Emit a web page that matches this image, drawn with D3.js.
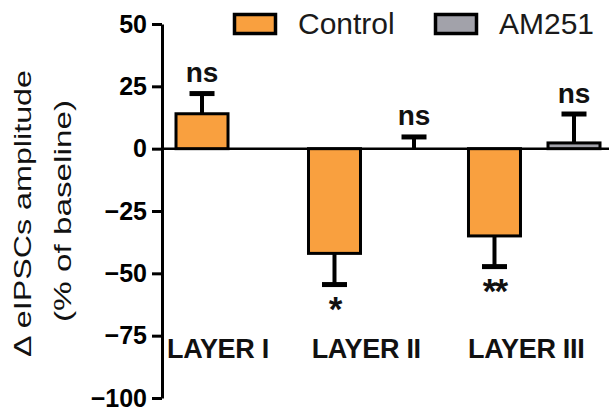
<!DOCTYPE html>
<html>
<head>
<meta charset="utf-8">
<script src="https://cdn.jsdelivr.net/npm/d3@7"></script>
<style>
  html, body { margin: 0; padding: 0; background: #ffffff; }
  svg { display: block; font-family: "Liberation Sans", Arial, Helvetica, sans-serif; }
</style>
</head>
<body>
<svg id="chart" width="613" height="413"></svg>
<script>
// ---------- data ----------
const layers = ["LAYER I", "LAYER II", "LAYER III"];
const series = ["Control", "AM251"];
const controlMean = [14, -42, -35];
const controlSem  = [8.1, 12.5, 12.3];
const am251Mean   = [null, 0, 2.3];
const am251Sem    = [null, 4.7, 11.6];
const controlSig  = ["ns", "*", "**"];
const am251Sig    = [null, "ns", "ns"];
const yTicks = [50, 25, 0, -25, -50, -75, -100];
const yLabelLines = ["\u0394 eIPSCs amplitude", "(% of baseline)"];

// ---------- styles ----------
const colors = { "Control": "#F9A03F", "AM251": "#A2A2AA" };
const W = 613, H = 413;
const axisX = 162;

const svg = d3.select("#chart");

// ---------- scales ----------
const y = d3.scaleLinear().domain([-100, 50]).range([398, 24]);
const x0 = d3.scaleBand().domain(layers).range([148.5, 600]).paddingInner(0.178).paddingOuter(0);
const x1 = d3.scaleBand().domain(series).range([0, x0.bandwidth()]).paddingInner(0.346).paddingOuter(0);

// build records
const bars = [];
layers.forEach((l, i) => {
  const recs = [
    { layer: l, s: "Control", mean: controlMean[i], sem: controlSem[i], sig: controlSig[i] },
    { layer: l, s: "AM251", mean: am251Mean[i], sem: am251Sem[i], sig: am251Sig[i] }
  ].filter(r => r.mean !== null);
  recs.forEach(r => {
    if (recs.length === 1) {
      // single bar in a group: offset by one inner gap from the band start
      r.x = x0(l) + (x1.step() - x1.bandwidth());
    } else {
      r.x = x0(l) + x1(r.s);
    }
    r.w = x1.bandwidth();
    bars.push(r);
  });
});

// ---------- zero line ----------
svg.append("line")
  .attr("x1", axisX).attr("x2", W - 4)
  .attr("y1", y(0)).attr("y2", y(0))
  .attr("stroke", "#000").attr("stroke-width", 2.5);

// ---------- error bars ----------
const eb = svg.append("g");
bars.forEach(b => {
  const dir = b.mean >= 0 ? 1 : -1;
  const end = b.mean + dir * b.sem;
  const cx = b.x + b.w / 2;
  eb.append("line")
    .attr("x1", cx).attr("x2", cx)
    .attr("y1", y(b.mean)).attr("y2", y(end))
    .attr("stroke", "#000").attr("stroke-width", 4);
  eb.append("line")
    .attr("x1", cx - 12.5).attr("x2", cx + 12.5)
    .attr("y1", y(end)).attr("y2", y(end))
    .attr("stroke", "#000").attr("stroke-width", 5);
  if (b.sig) {
    if (dir > 0) {
      eb.append("text")
        .attr("x", cx).attr("y", y(end) - 11.5)
        .attr("text-anchor", "middle")
        .attr("font-size", 28).attr("font-weight", "bold")
        .attr("fill", "#111")
        .text(b.sig);
    } else {
      eb.append("text")
        .attr("x", cx).attr("y", y(end) + 36)
        .attr("text-anchor", "middle")
        .attr("font-size", 35).attr("font-weight", "bold")
        .attr("letter-spacing", -2)
        .attr("fill", "#111")
        .text(b.sig);
    }
  }
});

// ---------- bars ----------
svg.append("g").selectAll("rect").data(bars).join("rect")
  .attr("x", d => d.x)
  .attr("width", d => d.w)
  .attr("y", d => Math.min(y(d.mean), y(0)))
  .attr("height", d => Math.abs(y(d.mean) - y(0)))
  .attr("fill", d => colors[d.s])
  .attr("stroke", "#000")
  .attr("stroke-width", 3);

// ---------- y axis ----------
const yAxis = d3.axisLeft(y).tickValues(yTicks).tickSize(10).tickSizeOuter(0).tickPadding(5);
const ga = svg.append("g").attr("transform", `translate(${axisX},0)`).call(yAxis);
ga.select(".domain").attr("stroke", "#000").attr("stroke-width", 3);
ga.selectAll(".tick line").attr("stroke", "#000").attr("stroke-width", 3);
ga.selectAll(".tick text")
  .attr("font-size", 25).attr("font-weight", "bold")
  .attr("fill", "#000")
  .attr("font-family", "'Liberation Sans', Arial, sans-serif");

// ---------- layer labels ----------
const lab = svg.append("g");
layers.forEach(l => {
  const t = lab.append("text")
    .attr("y", 358)
    .attr("text-anchor", "middle")
    .attr("font-size", 27).attr("font-weight", "bold")
    .attr("letter-spacing", -0.3)
    .attr("fill", "#111")
    .text(l);
  const w = t.node().getComputedTextLength();
  const cx = Math.max(x0(l) + x0.bandwidth() / 2 - 8, axisX + 5 + w / 2);
  t.attr("x", cx);
});

// ---------- y label ----------
const yl = svg.append("g");
const ylPos = [{ bx: 31, cy: 213.5, len: 287 }, { bx: 71, cy: 211, len: 222 }];
yLabelLines.forEach((txt, i) => {
  yl.append("text")
    .attr("transform", `translate(${ylPos[i].bx},${ylPos[i].cy}) rotate(-90)`)
    .attr("text-anchor", "middle")
    .attr("font-size", 24)
    .attr("textLength", ylPos[i].len)
    .attr("lengthAdjust", "spacingAndGlyphs")
    .attr("fill", "#111")
    .text(txt);
});

// ---------- legend ----------
const lg = svg.append("g");
const legendX = [234.5, 435.5];
series.forEach((s, i) => {
  lg.append("rect")
    .attr("x", legendX[i]).attr("y", 14.5)
    .attr("width", 41).attr("height", 19)
    .attr("fill", colors[s]).attr("stroke", "#000").attr("stroke-width", 3.5);
  lg.append("text")
    .attr("x", legendX[i] + 63.5).attr("y", 34)
    .attr("font-size", 30)
    .attr("fill", "#1a1a1a")
    .text(s);
});
</script>
</body>
</html>
